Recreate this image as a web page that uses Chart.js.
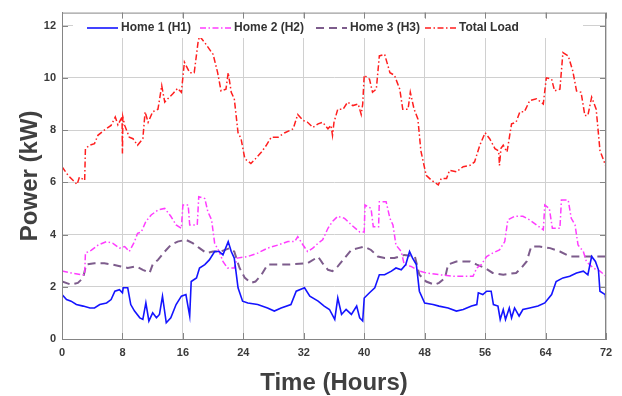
<!DOCTYPE html>
<html lang="en">
<head>
  <meta charset="UTF-8">
  <title>Power – three homes and total load</title>
  <script src="https://cdn.jsdelivr.net/npm/chart.js"></script>
  <style>
    html, body { margin: 0; padding: 0; background: #fff; }
    #wrap { width: 622px; height: 396px; }
  </style>
</head>
<body>
  <div id="wrap"><canvas id="powerChart" width="622" height="396"></canvas></div>

  <script>
    // [hour, kW]
    const h1Points = [[0,1.7],[0.6,1.51],[1.2,1.45],[1.9,1.32],[2.8,1.26],[3.7,1.19],[4.3,1.19],[5.0,1.32],[5.9,1.38],[6.5,1.51],[7.0,1.83],[7.6,1.89],[8.0,1.77],[8.1,1.96],[8.7,1.96],[9.1,1.32],[9.6,1.07],[10.3,0.81],[10.7,0.75],[11.1,1.38],[11.5,0.69],[12.0,1.0],[12.5,0.81],[12.9,0.94],[13.3,1.64],[13.8,0.62],[14.4,0.81],[15.1,1.32],[15.8,1.64],[16.4,1.7],[16.9,0.88],[17.1,2.2],[17.8,2.34],[18.2,2.72],[18.9,2.85],[19.5,3.03],[20.2,3.35],[20.8,3.35],[21.3,3.22],[22.0,3.73],[22.4,3.35],[22.8,3.1],[23.3,1.96],[23.9,1.45],[24.6,1.38],[25.9,1.32],[27.2,1.19],[28.1,1.07],[29.0,1.19],[30.3,1.32],[31.0,1.83],[32.1,1.96],[32.8,1.64],[33.9,1.45],[34.7,1.26],[35.4,1.13],[36.1,0.75],[36.5,1.57],[37.0,0.94],[37.6,1.13],[38.3,0.94],[39.0,1.26],[39.4,0.81],[39.8,0.69],[40.0,1.57],[40.7,1.77],[41.4,1.96],[42.0,2.46],[42.7,2.46],[43.6,2.6],[44.2,2.72],[44.9,2.65],[45.5,2.85],[46.0,3.35],[46.4,3.1],[46.9,2.85],[47.3,1.83],[48.0,1.38],[49.1,1.32],[49.9,1.26],[51.1,1.19],[52.2,1.07],[53.1,1.13],[54.2,1.26],[54.9,1.32],[55.1,1.77],[55.7,1.7],[56.2,1.83],[56.8,1.83],[57.1,1.32],[57.7,1.26],[58.0,0.75],[58.4,1.13],[58.7,0.75],[59.2,1.19],[59.5,0.81],[59.9,1.19],[60.5,0.88],[61.0,1.13],[61.9,1.19],[63.0,1.26],[63.9,1.38],[64.8,1.7],[65.4,2.2],[66.3,2.34],[67.2,2.4],[68.1,2.53],[69.0,2.6],[69.6,2.46],[70.1,3.16],[70.6,2.97],[71.0,2.65],[71.2,1.83],[71.9,1.7],[72,1.38]];

    const h2Points = [[0,2.6],[1.2,2.53],[2.6,2.46],[3.0,2.46],[3.1,3.29],[3.9,3.4],[4.8,3.6],[5.9,3.73],[6.7,3.67],[7.6,3.48],[8.3,3.54],[8.9,3.35],[9.6,3.73],[10.0,4.05],[10.5,4.1],[11.1,4.5],[11.8,4.75],[12.7,4.94],[13.6,5.0],[14.4,4.7],[15.1,4.37],[15.8,4.24],[16.0,5.13],[16.7,5.13],[16.9,4.37],[17.9,4.37],[18.1,5.45],[18.9,5.38],[19.3,4.88],[19.8,4.56],[20.2,3.67],[20.8,3.35],[21.3,2.97],[21.9,2.72],[22.8,2.72],[23.2,3.1],[24.6,3.16],[25.9,3.29],[27.2,3.48],[28.6,3.6],[29.9,3.73],[30.8,3.73],[31.2,3.92],[31.9,3.6],[32.5,3.35],[33.2,3.48],[33.9,3.67],[34.5,3.8],[35.2,4.24],[35.8,4.5],[36.5,4.7],[37.4,4.62],[38.3,4.37],[39.4,4.1],[40.0,4.1],[40.1,5.13],[40.9,5.0],[41.2,4.3],[41.9,4.3],[42.0,5.26],[42.9,5.26],[43.4,4.62],[43.8,4.37],[44.2,3.6],[44.9,3.35],[45.3,2.85],[46.2,2.78],[47.3,2.6],[48.2,2.53],[50.0,2.46],[51.8,2.4],[54.4,2.4],[54.9,2.72],[55.5,2.85],[56.2,3.16],[57.0,3.29],[57.9,3.41],[58.6,3.73],[59.0,4.56],[59.9,4.7],[61.0,4.7],[61.9,4.56],[62.8,4.37],[63.7,4.18],[63.9,5.13],[64.5,5.0],[64.9,4.24],[65.9,4.24],[66.1,5.32],[67.0,5.32],[67.4,4.62],[67.9,4.37],[68.3,3.6],[69.0,3.35],[69.4,2.97],[70.3,2.72],[71.2,2.6],[72,2.4]];

    const h3Points = [[0,2.2],[1.2,2.08],[2.1,2.15],[2.8,2.34],[3.2,2.85],[4.3,2.9],[5.6,2.9],[6.7,2.85],[7.8,2.78],[8.7,2.72],[9.8,2.78],[10.7,2.65],[11.6,2.53],[12.0,2.85],[12.7,3.03],[13.6,3.35],[14.4,3.6],[15.3,3.73],[16.4,3.8],[17.3,3.67],[18.2,3.48],[19.1,3.29],[20.0,3.35],[21.0,3.35],[22.2,3.48],[22.8,3.35],[23.5,2.72],[24.2,2.34],[25.0,2.15],[25.6,2.2],[26.4,2.46],[27.2,2.85],[29.9,2.85],[32.5,2.9],[33.9,3.15],[34.5,2.9],[35.2,2.65],[35.8,2.6],[36.5,2.78],[37.4,3.1],[38.3,3.41],[39.2,3.48],[40.0,3.54],[40.9,3.41],[41.8,3.16],[42.7,3.1],[44.0,3.1],[45.3,3.22],[46.7,3.16],[47.3,2.46],[48.2,2.2],[49.3,2.08],[49.9,2.15],[50.7,2.34],[51.1,2.85],[52.2,2.97],[54.0,2.97],[54.9,2.85],[56.0,2.72],[57.0,2.53],[58.4,2.46],[60.1,2.53],[60.8,2.72],[61.5,2.97],[62.1,3.54],[63.2,3.54],[64.6,3.48],[65.9,3.35],[67.2,3.16],[68.5,3.16],[69.8,3.16],[71.2,3.16],[72,3.16]];

    const totalPoints = [[0,6.6],[0.8,6.27],[1.45,6.08],[2.0,5.92],[2.3,6.2],[3.0,6.08],[3.1,7.29],[3.65,7.42],[4.3,7.48],[4.75,7.8],[5.6,8.0],[6.5,8.18],[7.05,8.5],[7.4,8.2],[7.95,8.5],[8.0,7.1],[8.05,8.5],[8.3,8.18],[8.9,7.73],[9.4,7.67],[10.0,7.42],[10.7,7.67],[11.0,8.7],[11.4,8.3],[12.0,8.7],[12.7,8.8],[13.2,9.7],[13.6,9.07],[14.0,9.2],[14.7,9.4],[15.3,9.6],[15.8,9.45],[16.2,10.6],[16.9,10.2],[17.5,10.2],[18.0,11.35],[18.2,11.6],[18.9,11.35],[19.5,11.1],[20.0,10.9],[20.6,10.2],[21.05,9.5],[21.7,9.57],[22.0,10.2],[22.4,9.45],[22.8,9.2],[23.3,7.9],[23.7,7.67],[24.2,6.9],[25.0,6.72],[25.6,6.9],[26.4,7.16],[27.0,7.4],[27.7,7.73],[28.6,7.73],[29.5,7.9],[30.6,8.05],[31.2,8.6],[31.9,8.37],[32.5,8.3],[33.2,8.1],[33.9,8.24],[34.5,8.3],[35.2,8.05],[35.6,8.18],[35.8,7.8],[36.0,8.3],[36.5,8.8],[37.2,8.8],[37.8,9.07],[38.5,8.94],[39.2,9.0],[39.6,8.6],[39.8,9.0],[40.0,10.1],[40.7,9.95],[41.1,9.45],[41.6,9.57],[42.0,10.84],[42.7,10.9],[43.4,10.2],[44.0,10.1],[44.7,9.57],[45.1,8.8],[45.8,8.8],[46.1,9.45],[46.6,8.8],[47.1,8.43],[47.5,7.2],[48.2,6.27],[48.9,6.08],[49.8,5.9],[50.2,6.15],[50.9,6.15],[51.3,6.46],[52.2,6.4],[53.1,6.6],[54.0,6.65],[54.6,6.78],[55.3,7.42],[56.0,7.9],[56.6,7.67],[57.3,7.29],[57.8,7.2],[57.9,6.65],[58.1,7.3],[58.4,7.42],[58.9,7.16],[59.5,8.24],[60.1,8.3],[60.6,8.7],[61.2,8.7],[61.9,9.13],[62.8,9.2],[63.7,9.0],[64.1,10.0],[64.8,9.95],[65.2,9.5],[65.9,9.57],[66.3,10.97],[67.0,10.84],[67.6,10.27],[68.1,9.5],[68.7,9.45],[69.2,8.56],[69.6,8.56],[70.1,9.26],[70.7,8.8],[71.2,7.22],[72,6.6]];

    const seriesNames = ['Home 1 (H1)', 'Home 2 (H2)', 'Home 3 (H3)', 'Total Load'];
    const hourTicks = [0, 8, 16, 24, 32, 40, 48, 56, 64, 72];
    const powerTicks = [0, 2, 4, 6, 8, 10, 12];

    const FONT = 'Arial, "Liberation Sans", sans-serif';
    const toXY = pts => pts.map(p => ({ x: p[0], y: p[1] }));

    const styles = [
      { color: '#1414ff', dash: [], width: 1.6 },
      { color: '#ff3cff', dash: [6, 2.5, 1.5, 2.5], width: 1.5 },
      { color: '#7d5c8c', dash: [8, 5], width: 2 },
      { color: '#ff1e1e', dash: [6, 2.5, 1.5, 2.5], width: 1.5 }
    ];

    // legend drawn inside the plot box, white background, no border
    const legendStarts = [87, 200, 316, 425];
    const insideLegend = {
      id: 'insideLegend',
      afterDatasetsDraw(chart) {
        const ctx = chart.ctx;
        ctx.save();
        ctx.fillStyle = '#fff';
        ctx.fillRect(73, 18, 510, 20);
        ctx.font = 'bold 12px ' + FONT;
        ctx.textBaseline = 'middle';
        ctx.fillStyle = '#333';
        seriesNames.forEach((name, i) => {
          const s = styles[i];
          const x0 = legendStarts[i];
          ctx.strokeStyle = s.color;
          ctx.lineWidth = s.width;
          ctx.setLineDash(s.dash);
          ctx.beginPath();
          ctx.moveTo(x0, 28);
          ctx.lineTo(x0 + 31, 28);
          ctx.stroke();
          ctx.setLineDash([]);
          ctx.fillText(name, x0 + 34, 28);
        });
        ctx.restore();
      },
      afterDraw(chart) {
        const { ctx, chartArea: a, scales } = chart;
        ctx.save();
        ctx.strokeStyle = '#858585';
        ctx.lineWidth = 1;
        ctx.strokeRect(a.left + 0.5, a.top + 0.5, a.right - a.left - 1, a.bottom - a.top);
        // small inward tick marks like the original
        ctx.beginPath();
        powerTicks.forEach(v => {
          const y = Math.round(scales.y.getPixelForValue(v)) + 0.5;
          ctx.moveTo(a.left, y); ctx.lineTo(a.left + 6, y);
          ctx.moveTo(a.right, y); ctx.lineTo(a.right - 6, y);
        });
        hourTicks.forEach(h => {
          const x = Math.round(scales.x.getPixelForValue(h)) + 0.5;
          ctx.moveTo(x, a.bottom); ctx.lineTo(x, a.bottom - 6);
          ctx.moveTo(x, a.top); ctx.lineTo(x, a.top + 6);
        });
        ctx.stroke();
        ctx.restore();
      }
    };

    const allPoints = [h1Points, h2Points, h3Points, totalPoints];

    new Chart(document.getElementById('powerChart'), {
      type: 'line',
      data: {
        datasets: allPoints.map((pts, i) => ({
          label: seriesNames[i],
          data: toXY(pts),
          borderColor: styles[i].color,
          borderWidth: styles[i].width,
          borderDash: styles[i].dash,
          pointRadius: 0,
          tension: 0,
          fill: false
        }))
      },
      options: {
        responsive: false,
        animation: false,
        devicePixelRatio: 1,
        layout: { padding: { top: 11, right: 16, left: 0, bottom: 0 } },
        plugins: {
          legend: { display: false },
          tooltip: { enabled: false }
        },
        scales: {
          x: {
            type: 'linear',
            min: 0,
            max: 72,
            afterBuildTicks: s => { s.ticks = hourTicks.map(v => ({ value: v })); },
            afterFit: s => { s.height = 57; },
            grid: { color: '#d0d0d0', drawTicks: false },
            border: { color: '#858585' },
            ticks: { padding: 7, color: '#3a3a3a', font: { family: FONT, size: 11, weight: 'bold' } },
            title: {
              display: true,
              text: 'Time (Hours)',
              color: '#404040',
              font: { family: FONT, size: 24, weight: 'bold', lineHeight: 1.0 },
              padding: { top: 0, bottom: 1 }
            }
          },
          y: {
            min: 0,
            max: 12.5,
            afterBuildTicks: s => { s.ticks = powerTicks.map(v => ({ value: v })); },
            afterFit: s => { s.width = 62; },
            grid: { color: '#d0d0d0', drawTicks: false },
            border: { color: '#858585' },
            ticks: { padding: 6, color: '#3a3a3a', font: { family: FONT, size: 11, weight: 'bold' } },
            title: {
              display: true,
              text: 'Power (kW)',
              color: '#404040',
              font: { family: FONT, size: 24, weight: 'bold', lineHeight: 1.0 },
              padding: { top: 18, bottom: 0 }
            }
          }
        }
      },
      plugins: [insideLegend]
    });
  </script>
</body>
</html>
